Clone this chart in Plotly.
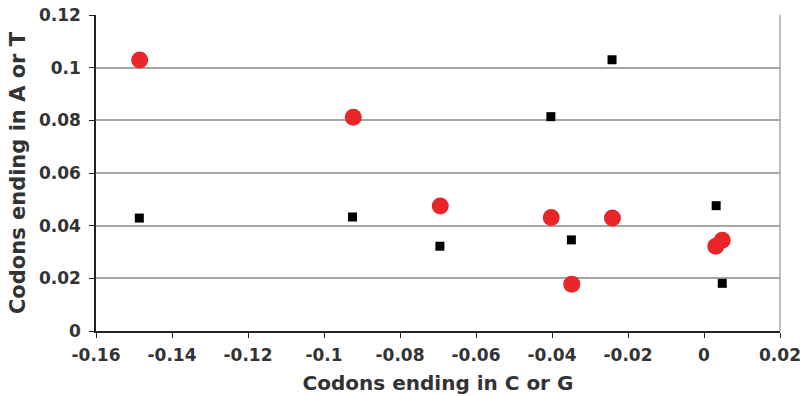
import plotly.graph_objects as go

# Red circles series
red_x = [-0.1485, -0.0923, -0.0694, -0.0402, -0.0241, -0.0348, 0.0031, 0.0048]
red_y = [0.1029, 0.0812, 0.0475, 0.0431, 0.0429, 0.0178, 0.0322, 0.0345]

# Black squares series
blk_x = [-0.1486, -0.0925, -0.0695, -0.0403, -0.0242, -0.0349, 0.0032, 0.0048]
blk_y = [0.0429, 0.0433, 0.0322, 0.0814, 0.1030, 0.0346, 0.0476, 0.0181]

x_ticks = [-0.16, -0.14, -0.12, -0.1, -0.08, -0.06, -0.04, -0.02, 0, 0.02]
x_labels = ["-0.16", "-0.14", "-0.12", "-0.1", "-0.08", "-0.06", "-0.04", "-0.02", "0", "0.02"]
y_ticks = [0, 0.02, 0.04, 0.06, 0.08, 0.1, 0.12]
y_labels = ["0", "0.02", "0.04", "0.06", "0.08", "0.1", "0.12"]

fig = go.Figure()
fig.add_trace(go.Scatter(x=blk_x, y=blk_y, mode="markers",
                         marker=dict(symbol="square", size=9, color="black")))
fig.add_trace(go.Scatter(x=red_x, y=red_y, mode="markers",
                         marker=dict(symbol="circle", size=17, color="#e8262a")))

font = "DejaVu Sans"
fig.update_layout(
    width=805, height=396,
    margin=dict(l=96, r=25, t=15, b=65),
    paper_bgcolor="white", plot_bgcolor="white",
    showlegend=False,
    font=dict(family=font, color="#333333"),
    xaxis=dict(range=[-0.16, 0.02], tickvals=x_ticks, ticktext=x_labels, automargin=False,
               showgrid=False, zeroline=False, showline=True, linecolor="#222222", linewidth=1.5,
               ticks="outside", ticklen=5, tickcolor="#222222", ticklabelstandoff=3,
               tickfont=dict(family=font, size=17, color="#333333", weight="bold"),
               title=dict(text="<b>Codons ending in C or G</b>", font=dict(family=font, size=20, color="#333333"),
                          standoff=12)),
    yaxis=dict(range=[0, 0.12], tickvals=y_ticks, ticktext=y_labels, automargin=False,
               showgrid=True, gridcolor="#a6a6a6", gridwidth=1.5,
               zeroline=False, showline=True, linecolor="#222222", linewidth=1.5,
               ticks="outside", ticklen=5, tickcolor="#222222", ticklabelstandoff=5,
               tickfont=dict(family=font, size=17, color="#333333", weight="bold"),
               title=dict(text="<b>Codons ending in A or T</b>", font=dict(family=font, size=21, color="#333333"),
                          standoff=8)),
)
fig.add_shape(type="line", xref="paper", yref="paper", x0=1, x1=1, y0=0, y1=1,
              line=dict(color="#a6a6a6", width=1.5))
fig.write_html("out.html", config={"displayModeBar": False},
               post_script="document.body.style.margin='0px';")
